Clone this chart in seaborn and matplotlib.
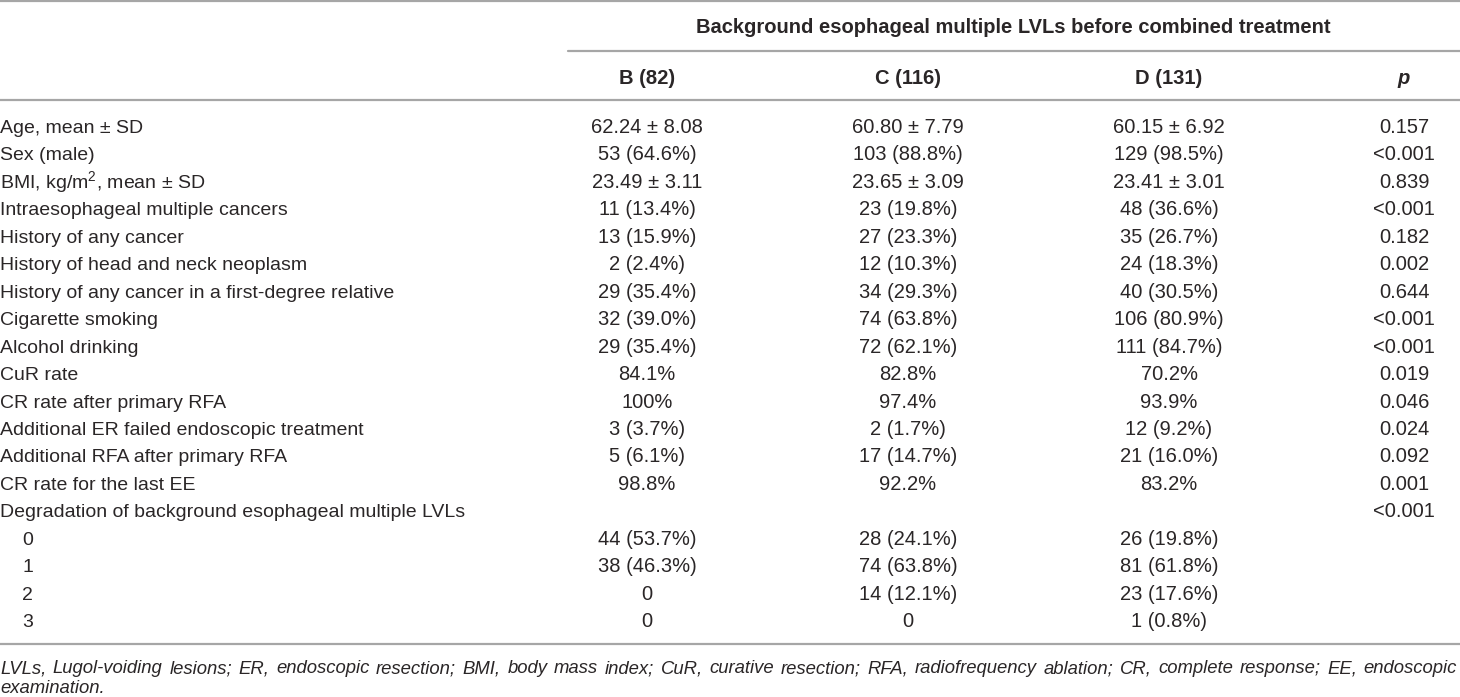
import numpy as np
import pandas as pd
import seaborn as sns
import matplotlib.pyplot as plt

# table content
row_labels = [
    'Age, mean ± SD',
    'Sex (male)',
    'BMI, kg/m$^2$, mean ± SD',
    'Intraesophageal multiple cancers',
    'History of any cancer',
    'History of head and neck neoplasm',
    'History of any cancer in a first-degree relative',
    'Cigarette smoking',
    'Alcohol drinking',
    'CuR rate',
    'CR rate after primary RFA',
    'Additional ER failed endoscopic treatment',
    'Additional RFA after primary RFA',
    'CR rate for the last EE',
    'Degradation of background esophageal multiple LVLs',
    '0', '1', '2', '3',
]
col_b = ['62.24 ± 8.08', '53 (64.6%)', '23.49 ± 3.11', '11 (13.4%)', '13 (15.9%)',
         '2 (2.4%)', '29 (35.4%)', '32 (39.0%)', '29 (35.4%)', '84.1%', '100%',
         '3 (3.7%)', '5 (6.1%)', '98.8%', '', '44 (53.7%)', '38 (46.3%)', '0', '0']
col_c = ['60.80 ± 7.79', '103 (88.8%)', '23.65 ± 3.09', '23 (19.8%)', '27 (23.3%)',
         '12 (10.3%)', '34 (29.3%)', '74 (63.8%)', '72 (62.1%)', '82.8%', '97.4%',
         '2 (1.7%)', '17 (14.7%)', '92.2%', '', '28 (24.1%)', '74 (63.8%)', '14 (12.1%)', '0']
col_d = ['60.15 ± 6.92', '129 (98.5%)', '23.41 ± 3.01', '48 (36.6%)', '35 (26.7%)',
         '24 (18.3%)', '40 (30.5%)', '106 (80.9%)', '111 (84.7%)', '70.2%', '93.9%',
         '12 (9.2%)', '21 (16.0%)', '83.2%', '', '26 (19.8%)', '81 (61.8%)', '23 (17.6%)', '1 (0.8%)']
p_vals = ['0.157', '<0.001', '0.839', '<0.001', '0.182', '0.002', '0.644', '<0.001',
          '<0.001', '0.019', '0.046', '0.024', '0.092', '0.001', '<0.001', '', '', '', '']
sub_rows = ['0', '1', '2', '3']

group_title = 'Background esophageal multiple LVLs before combined treatment'
col_headers = ['B (82)', 'C (116)', 'D (131)']
footnote = ('LVLs, Lugol-voiding lesions; ER, endoscopic resection; BMI, body mass index; '
            'CuR, curative resection; RFA, radiofrequency ablation; CR, complete response; '
            'EE, endoscopic examination.')

df = pd.DataFrame({'label': row_labels, 'B': col_b, 'C': col_c, 'D': col_d, 'p': p_vals})

sns.set_theme(style='white')
plt.rcParams['font.family'] = ['Liberation Sans', 'DejaVu Sans']
plt.rcParams['mathtext.fontset'] = 'custom'
plt.rcParams['mathtext.rm'] = 'Liberation Sans'
plt.rcParams['mathtext.it'] = 'Liberation Sans:italic'

W, H = 1460, 697
fig = plt.figure(figsize=(W / 100, H / 100), dpi=100)
ax = fig.add_axes([0, 0, 1, 1])
ax.set_xlim(0, W)
ax.set_ylim(H, 0)
ax.axis('off')

txt = '#2a2627'
line_c = '#a6a6a6'
fs = 14.5        # numbers and headers
fs_lab = 14.0    # row labels
fs_note = 13.3   # footnote
x_col = {'B': 647, 'C': 908, 'D': 1169, 'p': 1404}

# rules
ax.axhline(1, color=line_c, lw=1.6)
ax.plot([568, W], [51, 51], color=line_c, lw=1.6)
ax.axhline(100, color=line_c, lw=1.6)
ax.axhline(644, color=line_c, lw=1.6)

# header
ax.text(1013, 33, group_title, ha='center', va='baseline', fontsize=fs,
        fontweight='bold', color=txt)
for key, head in zip(['B', 'C', 'D'], col_headers):
    ax.text(x_col[key], 84, head, ha='center', va='baseline', fontsize=fs,
            fontweight='bold', color=txt)
ax.text(x_col['p'], 84, 'p', ha='center', va='baseline', fontsize=fs,
        fontweight='bold', fontstyle='italic', color=txt)

# body
y0, pitch = 133, 27.45
for i, r in df.iterrows():
    y = y0 + i * pitch
    indent = 22 if r['label'] in sub_rows else 0
    ax.text(indent, y, r['label'], ha='left', va='baseline', fontsize=fs_lab, color=txt)
    for key in ['B', 'C', 'D', 'p']:
        ax.text(x_col[key], y, r[key], ha='center', va='baseline', fontsize=fs, color=txt)

# footnote, justified first line
fig.canvas.draw()
renderer = fig.canvas.get_renderer()
words = footnote.split(' ')
first, second = words[:-1], words[-1:]
widths = []
for w in first:
    t = ax.text(0, 0, w, fontsize=fs_note, fontstyle='italic')
    widths.append(t.get_window_extent(renderer).width)
    t.remove()
right = 1457
gap = (right - sum(widths)) / (len(first) - 1)
x = 0
for w, wd in zip(first, widths):
    ax.text(x, 673, w, ha='left', va='baseline', fontsize=fs_note, fontstyle='italic', color=txt)
    x += wd + gap
ax.text(0, 693, ' '.join(second), ha='left', va='baseline', fontsize=fs_note,
        fontstyle='italic', color=txt)

fig.savefig('out.png', dpi=100, facecolor='white')
